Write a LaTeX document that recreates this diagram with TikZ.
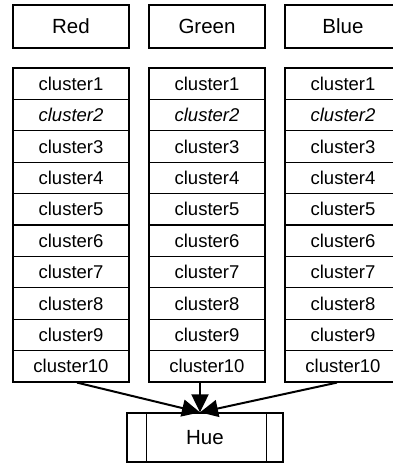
\documentclass[tikz,border=0pt]{standalone}
\usepackage{fontspec}
\setmainfont{Liberation Sans}
\usetikzlibrary{arrows.meta,calc}
\begin{document}
\begin{tikzpicture}[x=1pt,y=-1pt,
  headbox/.style={draw,line width=1.3pt,minimum width=116pt,minimum height=43pt,inner sep=0pt,font=\fontsize{20.5}{22}\selectfont},
  cellbox/.style={draw,line width=1.2pt,minimum width=116pt,minimum height=31.4pt,inner sep=0pt,font=\fontsize{18.5}{20}\selectfont},
  huebox/.style={draw,line width=1.3pt,minimum width=156pt,minimum height=49pt,inner sep=0pt,font=\fontsize{20.5}{22}\selectfont},
  conn/.style={line width=2pt,-{Triangle[length=18pt,width=17pt]}}]
\useasboundingbox (0,0) rectangle (393,466);
\fill[white] (0,0) rectangle (393,466);
\foreach \nm/\cx [count=\k] in {Red/71,Green/207,Blue/343}{
  \node[headbox] (h\k) at (\cx,26.5) {\nm};
  \foreach \i in {1,...,10}{
    \ifnum\i=2
      \node[cellbox] (c\k-\i) at (\cx,{68+31.4*(\i-0.5)}) {\itshape cluster\i};
    \else
      \node[cellbox] (c\k-\i) at (\cx,{68+31.4*(\i-0.5)}) {cluster\i};
    \fi
  }
}
\node[huebox] (hue) at (205,437.5) {Hue};
\draw[line width=1.2pt] ($(hue.north west)+(20,0)$) -- ($(hue.south west)+(20,0)$);
\draw[line width=1.2pt] ($(hue.north east)+(-17,0)$) -- ($(hue.south east)+(-17,0)$);
\coordinate (tip) at ($(hue.north)+(-5,0)$);
\coordinate (s1) at ($(c1-10.south)+(6,0)$);
\coordinate (s2) at ($(c2-10.south)+(-7,0)$);
\coordinate (s3) at ($(c3-10.south)+(-6,0)$);
\draw[conn] (s1) -- (tip);
\draw[conn] (s2) -- (tip);
\draw[conn] (s3) -- (tip);
\end{tikzpicture}
\end{document}
